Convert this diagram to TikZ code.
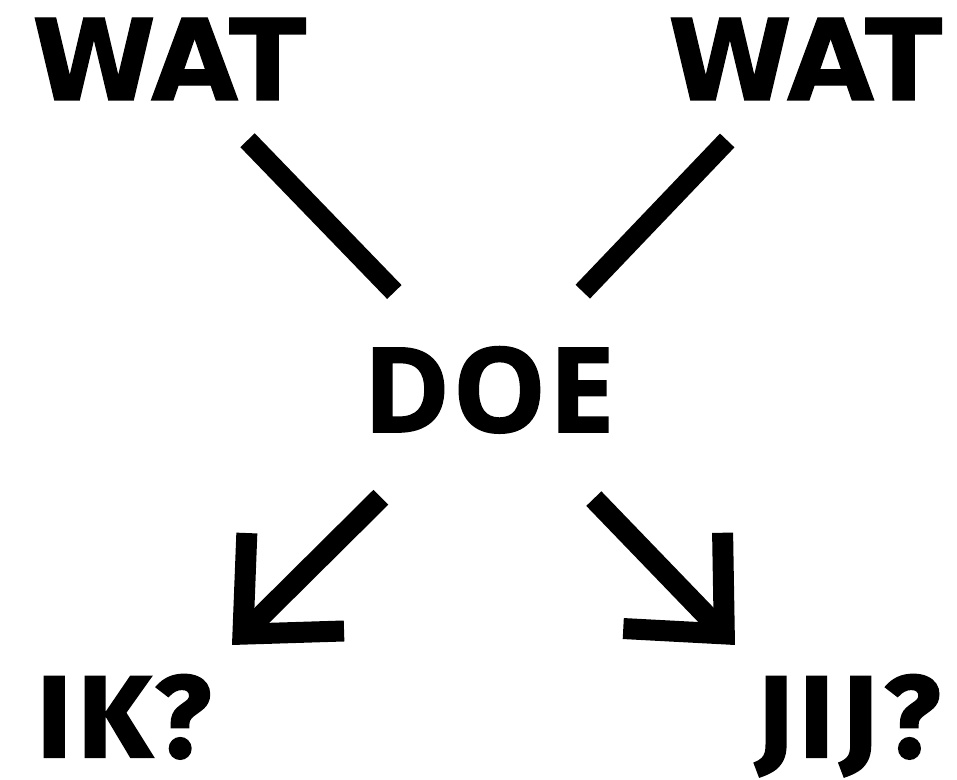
\documentclass[tikz,border=0pt]{standalone}
\usepackage{fontspec}
\usepackage{tikz}
\usetikzlibrary{arrows.meta}
\newfontfamily\watfont{DejaVu Sans}[BoldFeatures={FakeBold=1.2}]
\newfontfamily\doefont{Open Sans}[BoldFeatures={FakeBold=1.5, LetterSpace=2}]
\newfontfamily\vraagfont{Fira Sans}[BoldFeatures={FakeBold=1.8, LetterSpace=6}]

\tikzset{
    woord/.style={inner sep=0pt, anchor=base, font=\watfont\bfseries\fontsize{32}{32}\selectfont},
    doewoord/.style={inner sep=0pt, anchor=base, font=\doefont\bfseries\fontsize{33.5}{34}\selectfont},
    vraag/.style={inner sep=0pt, anchor=base, font=\vraagfont\bfseries\fontsize{33}{33}\selectfont},
    streep/.style={line width=0.2cm},
    pijl/.style={line width=0.21cm, -{Straight Barb[length=0.74cm, width=1.38cm]}}
}

\begin{document}
\begin{tikzpicture}
            \useasboundingbox (0, 0) rectangle (9.57, -7.8);

            \node[woord] (watL) at (1.69, -1.00) {WAT};
            \node[woord] (watR) at (8.05, -1.00) {WAT};
            \node[doewoord] (doe) at (4.89, -4.32) {DOE};
            \node[vraag] (ik) at (1.24, -7.57) {IK?};
            \node[vraag] (jij) at (8.48, -7.57) {JIJ?};
            \coordinate (ikpunt) at (2.32, -6.45);
            \coordinate (jijpunt) at (7.35, -6.45);

            \draw[streep, shorten <=0.55cm, shorten >=0.75cm] (watL) -- (doe); % wat-doe
            \draw[streep, shorten <=0.55cm, shorten >=0.75cm] (watR) -- (doe); % wat-doe
            \draw[pijl, shorten <=0.9cm] (doe) -- (ikpunt); % doe-ik
            \draw[pijl, shorten <=0.9cm] (doe) -- (jijpunt); % doe-jij
        \end{tikzpicture}
\end{document}
